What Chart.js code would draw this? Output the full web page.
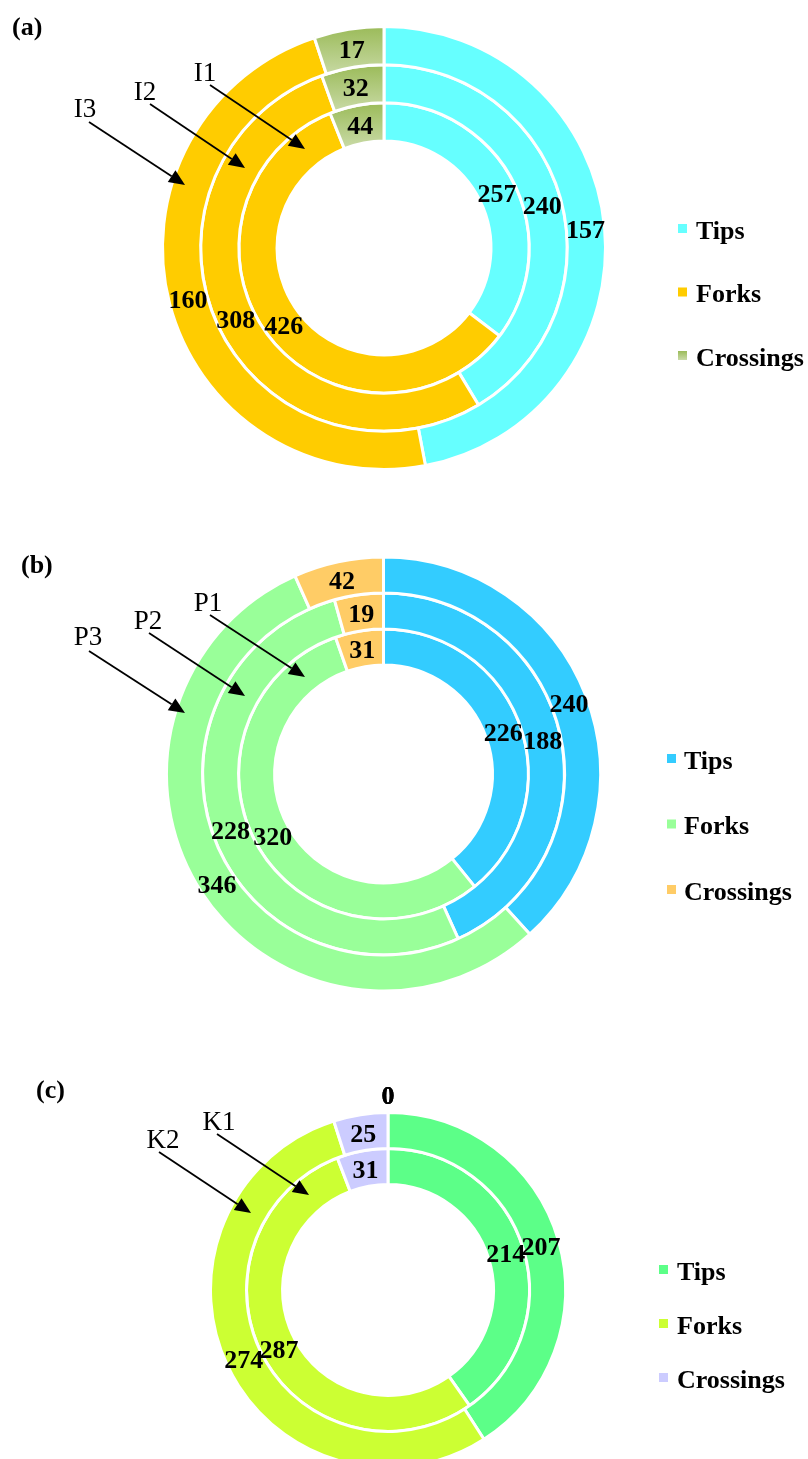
<!DOCTYPE html>
<html>
<head>
<meta charset="utf-8">
<title>Tips, forks and crossings per ring</title>
<script src="https://cdn.jsdelivr.net/npm/chart.js@4.4.1/dist/chart.umd.min.js"></script>
<style>
  html, body { margin: 0; padding: 0; background: #ffffff; }
  body { width: 808px; height: 1459px; position: relative; overflow: hidden; }
  canvas { position: absolute; left: 0; display: block; }
</style>
</head>
<body>
<canvas id="chartA" width="808" height="520" style="top:0px"></canvas>
<canvas id="chartB" width="808" height="520" style="top:520px"></canvas>
<canvas id="chartC" width="808" height="419" style="top:1040px"></canvas>
<script>
// ---- data ----
const categories = ['Tips', 'Forks', 'Crossings'];

// Panel (a): rings listed outer → inner
const ringNamesA = ['I3', 'I2', 'I1'];
const I3 = [157, 160, 17];
const I2 = [240, 308, 32];
const I1 = [257, 426, 44];

// Panel (b)
const ringNamesB = ['P3', 'P2', 'P1'];
const P3 = [240, 346, 42];
const P2 = [188, 228, 19];
const P1 = [226, 320, 31];

// Panel (c): the outermost ring K3 holds no counts
const ringNamesC = ['K3', 'K2', 'K1'];
const K3 = [0, 0, 0];
const K2 = [207, 274, 25];
const K1 = [214, 287, 31];

// ---- styling ----
const SERIF = '"Liberation Serif", "Times New Roman", serif';

const panels = [
  {
    id: 'chartA', top: 0,
    names: ringNamesA, series: [I3, I2, I1],
    colors: ['#66FFFF', '#FFCC00', '#9BBB59'],
    gradient: ['#9BBB59', '#CADBA8'],
    radius: 221.5, cutout: '48.3%',
    padding: { left: 0, right: 40, top: 0, bottom: 24 },
    letter: { text: '(a)', x: 12, y: 35 },
    arrows: [
      { text: 'I1', from: [210, 85],  to: [305, 149], label: [205, 81] },
      { text: 'I2', from: [150, 104], to: [245, 168], label: [145, 100] },
      { text: 'I3', from: [89, 122],  to: [185, 185], label: [85, 117] }
    ],
    legend: { x: 678, y: 228.5, gap: 63.5, textDx: 18 }
  },
  {
    id: 'chartB', top: 520,
    names: ringNamesB, series: [P3, P2, P1],
    colors: ['#33CCFF', '#99FF99', '#FFCC66'],
    gradient: null,
    radius: 217, cutout: '50.2%',
    padding: { left: 0, right: 41, top: 0, bottom: 12 },
    letter: { text: '(b)', x: 21, y: 573 },
    arrows: [
      { text: 'P1', from: [210, 615], to: [305, 677], label: [208, 611] },
      { text: 'P2', from: [149, 633], to: [245, 696], label: [148, 629] },
      { text: 'P3', from: [89, 651],  to: [185, 713], label: [88, 645] }
    ],
    legend: { x: 667, y: 758.5, gap: 65.5, textDx: 17 }
  },
  {
    id: 'chartC', top: 1040,
    names: ringNamesC, series: [K3, K2, K1],
    colors: ['#5CFF88', '#CCFF33', '#CCCCFF'],
    gradient: null,
    radius: 213.5, cutout: '49.4%',
    padding: { left: 0, right: 32, top: 81, bottom: 0 },
    letter: { text: '(c)', x: 36, y: 1098 },
    arrows: [
      { text: 'K1', from: [217, 1134], to: [309, 1195], label: [219, 1130] },
      { text: 'K2', from: [159, 1152], to: [251, 1213], label: [163, 1148] }
    ],
    legend: { x: 659, y: 1269.5, gap: 54, textDx: 18 }
  }
];

// Segment fill; the Crossings segment may carry a top-to-bottom gradient per ring.
function segmentFill(colors, gradient) {
  return (c) => {
    const i = c.dataIndex;
    if (i !== 2 || !gradient) return colors[i];
    const chart = c.chart;
    const ca = chart.chartArea;
    const meta = chart.getDatasetMeta(c.datasetIndex);
    const ctrl = meta && meta.controller;
    if (!ca || !ctrl || !isFinite(ctrl.outerRadius) || !isFinite(ctrl.innerRadius)) return colors[i];
    const cy = (ca.top + ca.bottom) / 2;
    const g = chart.ctx.createLinearGradient(0, cy - ctrl.outerRadius, 0, cy - ctrl.innerRadius * 0.93);
    g.addColorStop(0, gradient[0]);
    g.addColorStop(1, gradient[1]);
    return g;
  };
}

function drawArrow(ctx, x1, y1, x2, y2) {
  const ang = Math.atan2(y2 - y1, x2 - x1);
  const L = 16, W = 7;
  const bx = x2 - L * Math.cos(ang), by = y2 - L * Math.sin(ang);
  ctx.beginPath();
  ctx.moveTo(x1, y1);
  ctx.lineTo(bx, by);
  ctx.lineWidth = 1.8;
  ctx.strokeStyle = '#000';
  ctx.stroke();
  ctx.beginPath();
  ctx.moveTo(x2, y2);
  ctx.lineTo(bx + W * Math.sin(ang), by - W * Math.cos(ang));
  ctx.lineTo(bx - W * Math.sin(ang), by + W * Math.cos(ang));
  ctx.closePath();
  ctx.fillStyle = '#000';
  ctx.fill();
}

function decorPlugin(p) {
  const oy = p.top;
  return {
    id: 'ringDecor',
    afterDatasetsDraw(chart) {
      // value labels at each segment's centroid
      const ctx = chart.ctx;
      ctx.save();
      ctx.font = 'bold 26px ' + SERIF;
      ctx.fillStyle = '#000';
      ctx.textAlign = 'center';
      ctx.textBaseline = 'alphabetic';
      chart.data.datasets.forEach((ds, di) => {
        const meta = chart.getDatasetMeta(di);
        meta.data.forEach((arc, i) => {
          const pt = arc.getCenterPoint();
          ctx.fillText(String(ds.data[i]), pt.x, pt.y + 9.5);
        });
      });
      ctx.restore();
    },
    afterDraw(chart) {
      const ctx = chart.ctx;
      ctx.save();
      // panel letter
      ctx.font = 'bold 26px ' + SERIF;
      ctx.fillStyle = '#000';
      ctx.textAlign = 'left';
      ctx.textBaseline = 'alphabetic';
      ctx.fillText(p.letter.text, p.letter.x, p.letter.y - oy);

      // ring callouts
      p.arrows.forEach(a => {
        drawArrow(ctx, a.from[0], a.from[1] - oy, a.to[0], a.to[1] - oy);
        ctx.font = '27px ' + SERIF;
        ctx.textAlign = 'center';
        ctx.fillStyle = '#000';
        ctx.fillText(a.text, a.label[0], a.label[1] - oy);
      });

      // legend
      const lg = p.legend;
      categories.forEach((name, i) => {
        const cy = lg.y + i * lg.gap - oy;
        let fill = p.colors[i];
        if (i === 2 && p.gradient) {
          const g = ctx.createLinearGradient(0, cy - 4.5, 0, cy + 4.5);
          g.addColorStop(0, p.gradient[0]);
          g.addColorStop(1, p.gradient[1]);
          fill = g;
        }
        ctx.fillStyle = fill;
        ctx.fillRect(lg.x, cy - 4.5, 9, 9);
        ctx.fillStyle = '#000';
        ctx.font = 'bold 26px ' + SERIF;
        ctx.textAlign = 'left';
        ctx.fillText(name, lg.x + lg.textDx, cy + 10);
      });
      ctx.restore();
    }
  };
}

panels.forEach(p => {
  new Chart(document.getElementById(p.id), {
    type: 'doughnut',
    data: {
      labels: categories,
      datasets: p.series.map((vals, k) => ({
        label: p.names[k],
        data: vals,
        backgroundColor: segmentFill(p.colors, p.gradient),
        borderColor: '#ffffff',
        borderWidth: 3
      }))
    },
    options: {
      responsive: false,
      animation: false,
      events: [],
      radius: p.radius,
      cutout: p.cutout,
      layout: { padding: p.padding },
      plugins: {
        legend: { display: false },
        tooltip: { enabled: false },
        title: { display: false }
      }
    },
    plugins: [decorPlugin(p)]
  });
});
</script>
</body>
</html>
